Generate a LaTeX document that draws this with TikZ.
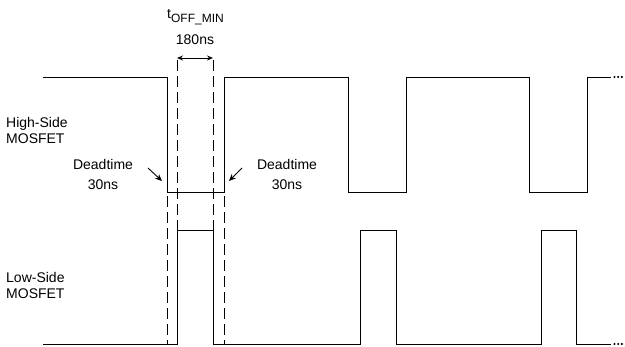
\documentclass[tikz,border=0pt]{standalone}
\usepackage{fontspec}
\setmainfont{Liberation Sans}
\usetikzlibrary{arrows.meta}
\begin{document}
\begin{tikzpicture}[x=1pt,y=-1pt,
  wave/.style={line width=0.9pt,line join=miter},
  dsh/.style={line width=0.9pt,dash pattern=on 11pt off 5pt},
  lbl/.style={font=\fontsize{14}{16}\selectfont,inner sep=0pt},
  ptr/.style={line width=0.9pt,-{Stealth[length=7pt,width=6pt]}},
  dim/.style={line width=0.9pt,{Stealth[length=6pt,width=5pt]}-{Stealth[length=6pt,width=5pt]}},
  dot/.style={fill=black,circle,inner sep=0pt,minimum size=2.4pt}]
\useasboundingbox (0,0) rectangle (625,347);
% high-side waveform
\draw[wave] (43,77) -- (167,77) -- (167,192) -- (224,192) -- (224,77) -- (348,77) -- (348,192)
  -- (406,192) -- (406,77) -- (529,77) -- (529,192) -- (587,192) -- (587,77) -- (611,77);
% low-side waveform
\draw[wave] (43,344) -- (177,344) -- (177,230) -- (213,230) -- (213,344) -- (360,344) -- (360,230)
  -- (396,230) -- (396,344) -- (541,344) -- (541,230) -- (576,230) -- (576,344) -- (611,344);
% dots
\foreach \yy/\nm in {77/t,344/b}{
  \node[dot] (\nm1) at (614.5,\yy) {};
  \node[dot] (\nm2) at (618.2,\yy) {};
  \node[dot] (\nm3) at (621.9,\yy) {};
}
% dashed guides
\draw[dsh] (167,196) -- (167,344);
\draw[dsh] (224,196) -- (224,344);
\draw[dsh] (177,60) -- (177,230);
\draw[dsh] (213,60) -- (213,230);
% dimension arrow
\coordinate (dl) at (177,58);
\coordinate (dr) at (213,58);
\draw[dim] (dl) -- (dr);
% labels
\node[lbl,anchor=west,align=left] (hs) at (6,130) {High-Side\\MOSFET};
\node[lbl,anchor=west,align=left] (ls) at (6,285) {Low-Side\\MOSFET};
\node[lbl,align=center] (dtl) at (103,174) {Deadtime\\[4pt]30ns};
\node[lbl,align=center] (dtr) at (287,174) {Deadtime\\[4pt]30ns};
\node[lbl,anchor=west] (toff) at (167,17) {t\textsubscript{\fontsize{12}{12}\selectfont OFF\_MIN}};
\node[lbl] (t180) at (195,40) {180ns};
% deadtime pointers
\coordinate (pl0) at (148,168);
\coordinate (pl1) at (162,181);
\coordinate (pr0) at (242,168);
\coordinate (pr1) at (229,181);
\draw[ptr] (pl0) -- (pl1);
\draw[ptr] (pr0) -- (pr1);
\end{tikzpicture}
\end{document}
